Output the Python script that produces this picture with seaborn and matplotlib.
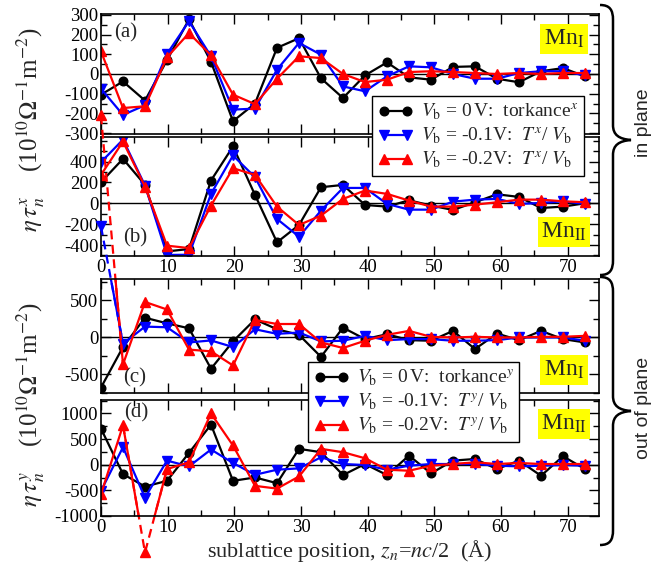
import matplotlib
matplotlib.use('Agg')
import matplotlib.pyplot as plt
import seaborn as sns
from matplotlib.lines import Line2D
from matplotlib.path import Path
from matplotlib.patches import PathPatch
from matplotlib.ticker import MultipleLocator, FixedLocator

# sublattice positions z_n (Angstrom)
z = [0.0, 3.3, 6.6, 9.9, 13.2, 16.5, 19.8, 23.1, 26.4, 29.7, 33.0, 36.3,
     39.6, 42.9, 46.2, 49.5, 52.8, 56.1, 59.4, 62.7, 66.0, 69.3, 72.6]

# (a) in plane, Mn_I
a_black = [-105, -38, -135, 70, 278, 62, -240, -150, 133, 182, -22, -122,
           -7, 59, -17, -29, 36, 39, -24, -42, 14, 30, -12]
a_blue = [-75, -208, -159, 102, 268, 90, -181, -176, 22, 158, 98, -63,
          -88, -12, 39, 34, 0, -24, -24, 5, 14, 14, -7]
a_red = [115, -173, -164, 85, 208, 95, -105, -153, -24, 90, 81, 0,
         -41, -29, 10, 14, 10, 5, 0, 5, 0, 5, 5]

# (b) in plane, Mn_II
b_black = [202, 426, 176, -461, -438, 218, 544, 80, -374, -208, 154, 176,
           -16, -32, 29, -22, -64, 10, 86, 61, -45, -32, 0]
b_blue = [394, 610, 170, -495, -493, 90, 458, 250, -150, -320, -70, 147,
          147, -6, -61, -61, 16, 35, 42, -6, 3, 19, -6]
b_red = [272, 592, 160, -406, -429, -22, 336, 272, -32, -208, -118, 42,
         122, 90, 26, -32, -32, -13, 10, 35, 35, 19, 10]

# (c) out of plane, Mn_I
c_black = [-676, -129, 267, 191, 124, -422, -53, 244, 111, 36, -262, 133,
           -22, 44, -36, -44, 89, -156, 53, -36, 89, -22, -67]
c_blue = [1500, -84, 147, 138, -67, -40, -129, 111, 49, 67, -53, -44,
          22, -36, -22, -22, -44, -44, -36, 0, 0, 0, -44]
c_red = [3000, -364, 480, 378, -164, -187, -378, 236, 182, 182, -67, -142,
         -44, 36, 89, 9, 0, 9, 0, 0, 9, 9, 22]

# (d) out of plane, Mn_II
d_black = [702, -184, -426, -315, 230, 780, -315, -249, -361, 308, 243, -203,
           13, -203, 177, -170, 79, 111, -85, 79, -216, 164, -85]
d_blue = [-511, 341, -643, 79, -33, 295, 33, -197, -98, -72, 144, 13,
          -7, -98, -20, 13, 13, 13, -20, -33, -20, -7, -20]
d_red = [-577, 767, -1711, -85, 46, 997, 374, -413, -466, -230, 308, 243,
         125, -98, -118, -20, 13, 46, 13, 33, 13, 13, 13]

labels_x = [r'$V_\mathrm{b}$ = 0$\,$V:  torkance$^x$',
            r'$V_\mathrm{b}$ = -0.1V:  $T^x$/ $V_\mathrm{b}$',
            r'$V_\mathrm{b}$ = -0.2V:  $T^x$/ $V_\mathrm{b}$']
labels_y = [r'$V_\mathrm{b}$ = 0$\,$V:  torkance$^y$',
            r'$V_\mathrm{b}$ = -0.1V:  $T^y$/ $V_\mathrm{b}$',
            r'$V_\mathrm{b}$ = -0.2V:  $T^y$/ $V_\mathrm{b}$']

sns.set_style('ticks')
plt.rcParams['font.family'] = ['Liberation Serif', 'DejaVu Serif']
plt.rcParams['mathtext.fontset'] = 'stix'
plt.rcParams['axes.unicode_minus'] = False

W, H = 654, 574
fig = plt.figure(figsize=(W / 100, H / 100), dpi=100)


def rect(l, t, r, b):
    return [l / W, 1 - b / H, (r - l) / W, (b - t) / H]


def fxy(x, y):
    return (x / W, 1 - y / H)


ax_a = fig.add_axes(rect(101, 14, 599, 134))
ax_b = fig.add_axes(rect(101, 137, 599, 256))
ax_c = fig.add_axes(rect(101, 279, 599, 393))
ax_d = fig.add_axes(rect(101, 400, 599, 516))

styles = [('black', 'o', 6.2), ('blue', 'v', 6.8), ('red', '^', 6.8)]
LW = 1.6


def draw(ax, ys):
    for (col, mk, ms), y in zip(styles, ys):
        sns.lineplot(x=z, y=y, ax=ax, color=col, marker=mk, markersize=ms,
                     markeredgecolor=col, markeredgewidth=1, linewidth=LW,
                     estimator=None, sort=False, legend=False)


panels = [
    (ax_a, [a_black, a_blue, a_red], (-305, 305), [-300, -200, -100, 0, 100, 200, 300], 50),
    (ax_b, [b_black, b_blue, b_red], (-505, 635), [-400, -200, 0, 200, 400], 100),
    (ax_c, [c_black, c_blue, c_red], (-750, 790), [-500, 0, 500], 250),
    (ax_d, [d_black, d_blue, d_red], (-1000, 1260), [-1000, -500, 0, 500, 1000], 250),
]

for ax, ys, yl, yt, ymin in panels:
    ax.axhline(0, color='black', lw=1.0, zorder=1)
    draw(ax, ys)
    ax.set_xlim(0, 74.7)
    ax.set_ylim(*yl)
    ax.xaxis.set_major_locator(MultipleLocator(10))
    ax.xaxis.set_minor_locator(MultipleLocator(5))
    ax.yaxis.set_major_locator(FixedLocator(yt))
    ax.yaxis.set_minor_locator(MultipleLocator(ymin))
    ax.tick_params(which='both', direction='in', top=True, right=True,
                   labelsize=13.5, width=1.0, colors='black', pad=2)
    ax.tick_params(which='major', length=7)
    ax.tick_params(which='minor', length=4)
    for lab in ax.get_xticklabels() + ax.get_yticklabels():
        lab.set_family('Liberation Serif')
    for s in ax.spines.values():
        s.set_linewidth(1.2)
        s.set_color('black')
    ax.set_xlabel('')
    ax.set_ylabel('')

ax_a.tick_params(labelbottom=False)
ax_c.tick_params(labelbottom=False)

# off-scale points drawn beyond the panel with dashed connectors
DASH = (0, (4, 2.5))
ax_c.plot(z[:2], c_blue[:2], color='blue', lw=LW, ls=DASH, clip_on=False)
ax_c.plot(z[:1], c_blue[:1], 'v', color='blue', ms=6.8, clip_on=False)
ax_c.plot(z[:2], c_red[:2], color='red', lw=LW, ls=DASH, clip_on=False)
ax_c.plot(z[:1], c_red[:1], '^', color='red', ms=6.8, clip_on=False)
ax_d.plot(z[1:4], d_red[1:4], color='red', lw=LW, ls=DASH, clip_on=False)
ax_d.plot(z[2:3], d_red[2:3], '^', color='red', ms=6.8, clip_on=False)

# panel tags
for ax, tag, pos in [(ax_a, '(a)', (126, 33)), (ax_b, '(b)', (135, 238)),
                     (ax_c, '(c)', (135, 378)), (ax_d, '(d)', (136, 413))]:
    fig.text(*fxy(*pos), tag, fontsize=15, ha='center', va='center')

# Mn labels
for txt, pos in [(r'Mn$_\mathrm{I}$', (564, 39)), (r'Mn$_\mathrm{II}$', (564, 232)),
                 (r'Mn$_\mathrm{I}$', (564, 370)), (r'Mn$_\mathrm{II}$', (564, 424))]:
    fig.text(*fxy(*pos), txt, fontsize=17, ha='center', va='center', zorder=10,
             bbox=dict(boxstyle='square,pad=0.15', fc='#ffff00', ec='none'))

# legends
handles = [Line2D([0], [0], color=c, marker=m, markersize=ms, lw=LW)
           for c, m, ms in styles]
for labs, pos in [(labels_x, (372, 96)), (labels_y, (308, 362))]:
    leg = fig.legend(handles, labs, loc='upper left', bbox_to_anchor=fxy(*pos),
                     frameon=True, fancybox=False, edgecolor='black', framealpha=1,
                     fontsize=14, numpoints=2, handlelength=1.8, borderaxespad=0,
                     borderpad=0.3, labelspacing=0.2, handletextpad=0.4)
    leg.get_frame().set_linewidth(1.0)

# axis titles
fig.text(*fxy(30, 130), r'$\eta\,\tau_n^x$    (10$^{10}\Omega^{-1}$m$^{-2}$)',
         rotation=90, ha='center', va='center', fontsize=18)
fig.text(*fxy(30, 405), r'$\eta\,\tau_n^y$    (10$^{10}\Omega^{-1}$m$^{-2}$)',
         rotation=90, ha='center', va='center', fontsize=18)
fig.text(*fxy(350, 551), r'sublattice position, $z_n$=$nc$/2  (Å)',
         ha='center', va='center', fontsize=16)

# braces
def brace(top, bot, xe=600, xv=613, xc=631):
    mid = (top + bot) / 2
    pts = [(xe, top), (xv - 3, top), (xv, top + 5), (xv, top + 15),
           (xv, mid - 15),
           (xv, mid - 5), (xv + 6, mid - 1), (xc, mid),
           (xv + 6, mid + 1), (xv, mid + 5), (xv, mid + 15),
           (xv, bot - 15),
           (xv, bot - 5), (xv - 3, bot), (xe, bot)]
    codes = [Path.MOVETO, Path.CURVE4, Path.CURVE4, Path.CURVE4, Path.LINETO,
             Path.CURVE4, Path.CURVE4, Path.CURVE4,
             Path.CURVE4, Path.CURVE4, Path.CURVE4, Path.LINETO,
             Path.CURVE4, Path.CURVE4, Path.CURVE4]
    p = Path([fxy(x, y) for x, y in pts], codes)
    fig.add_artist(PathPatch(p, fc='none', ec='black', lw=1.8,
                             transform=fig.transFigure))


brace(5, 275)
brace(277, 545)
fig.text(*fxy(643, 123), 'in plane', rotation=90, ha='center', va='center',
         fontsize=14, family='Liberation Sans')
fig.text(*fxy(643, 408), 'out of plane', rotation=90, ha='center', va='center',
         fontsize=14, family='Liberation Sans')

fig.savefig('out.png', dpi=100)
